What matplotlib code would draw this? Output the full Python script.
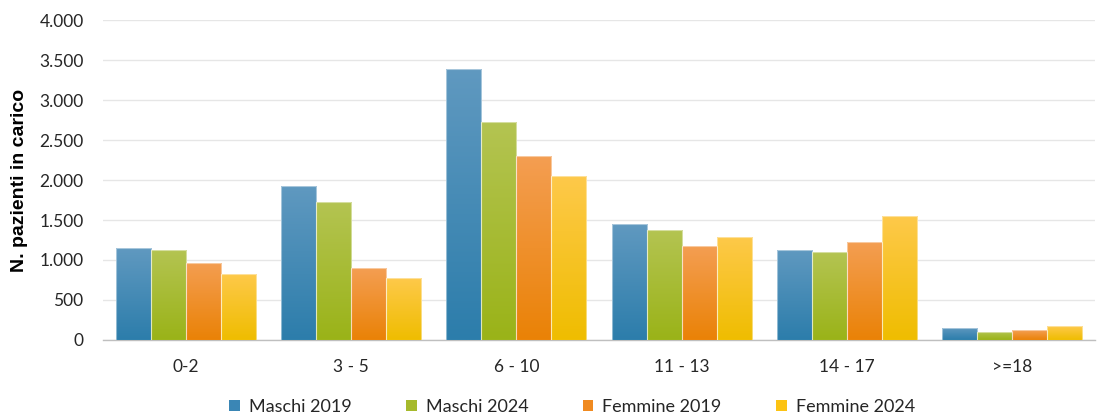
import matplotlib
matplotlib.use("Agg")
import matplotlib.pyplot as plt
import numpy as np
from matplotlib.colors import LinearSegmentedColormap
from matplotlib.ticker import FuncFormatter, MultipleLocator
from matplotlib.patches import Patch

categories = ["0-2", "3 - 5", "6 - 10", "11 - 13", "14 - 17", ">=18"]
series_names = ["Maschi 2019", "Maschi 2024", "Femmine 2019", "Femmine 2024"]
maschi_2019 = [1150, 1930, 3390, 1450, 1130, 155]
maschi_2024 = [1130, 1730, 2730, 1380, 1100, 105]
femmine_2019 = [965, 900, 2300, 1170, 1220, 125]
femmine_2024 = [830, 770, 2050, 1290, 1550, 175]
series_values = [maschi_2019, maschi_2024, femmine_2019, femmine_2024]

# (top colour, bottom colour, legend colour)
grad_colors = [
    ("#6099c0", "#2c7dab", "#3a86b5"),
    ("#b4c452", "#9ab318", "#a6ba2c"),
    ("#f49e52", "#ea8206", "#f08a20"),
    ("#fec94a", "#efbd00", "#fcc313"),
]

fig = plt.figure(figsize=(10.98, 4.19), dpi=100)
ax = fig.add_axes([103 / 1098, 1 - 340 / 419, (1095 - 103) / 1098, 320 / 419])

x = np.arange(len(categories))
bw = 0.212
offsets = (np.arange(4) - 1.5) * bw

grad = np.linspace(1, 0, 256).reshape(-1, 1)
handles = []
for i, (vals, name, (ctop, cbot, cleg)) in enumerate(zip(series_values, series_names, grad_colors)):
    bars = ax.bar(x + offsets[i], vals, width=bw, color="none",
                  edgecolor=(1, 1, 1, 0.45), linewidth=0.8, zorder=4)
    cmap = LinearSegmentedColormap.from_list(f"g{i}", [cbot, ctop])
    for b in bars:
        bx = b.get_x()
        w, h = b.get_width(), b.get_height()
        im = ax.imshow(grad, cmap=cmap, aspect="auto",
                       extent=[bx, bx + w, 0, h], zorder=3, vmin=0, vmax=1)
        im.set_clip_path(b)
    handles.append(Patch(facecolor=cleg, edgecolor="none", label=name))

ax.set_xlim(-0.5, len(categories) - 0.5)
ax.set_ylim(0, 4000)
ax.yaxis.set_major_locator(MultipleLocator(500))
ax.yaxis.set_major_formatter(FuncFormatter(lambda v, p: f"{int(v):,}".replace(",", ".")))
ax.set_xticks(x)
ax.set_xticklabels(categories)
ax.grid(axis="y", color="#e6e6e6", linewidth=1.0, zorder=0)
ax.set_axisbelow(True)
for s in ["top", "right", "left"]:
    ax.spines[s].set_visible(False)
ax.spines["bottom"].set_color("#bfbfbf")
ax.spines["bottom"].set_linewidth(1.0)
ax.tick_params(axis="both", length=0, labelsize=12.5, colors="#262626")
ax.tick_params(axis="x", pad=14)
ax.tick_params(axis="y", pad=14)
for lab in ax.get_xticklabels() + ax.get_yticklabels():
    lab.set_fontfamily("Lato")

ax.set_ylabel("N. pazienti in carico", fontsize=14, fontweight="bold",
              fontfamily="Liberation Sans", color="#000000", labelpad=8)

leg = fig.legend(handles=handles, loc="center", bbox_to_anchor=(572 / 1098, 1 - 407 / 419),
                 ncol=4, frameon=False, handlelength=0.6, handleheight=0.6,
                 handletextpad=0.5, columnspacing=3.0,
                 prop={"family": "Lato", "size": 13})
for t in leg.get_texts():
    t.set_color("#262626")

fig.savefig("out.png", dpi=100)
